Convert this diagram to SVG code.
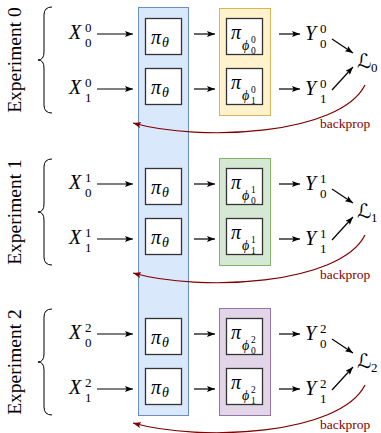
<svg xmlns="http://www.w3.org/2000/svg" width="381" height="433" viewBox="0 0 381 433">
<style>
text{font-family:"Liberation Serif","DejaVu Serif",serif;fill:#000}
.m{font-style:italic;font-size:20px}
.s{font-size:13px}
.ss{font-size:9.5px}
.g{font-style:italic;font-size:14px}
.cal{font-family:"DejaVu Serif","DejaVu Sans",serif;font-size:20px}
.exp{font-size:19.5px}
.bp{font-size:13.5px;fill:#7f0000}
.box{fill:#fff;stroke:#333;stroke-width:1.3}
.brace{fill:none;stroke:#000;stroke-width:1}
.ar{fill:none;stroke:#000;stroke-width:1.2;marker-end:url(#ah)}
.rc{fill:none;stroke:#7f0000;stroke-width:1.2;marker-end:url(#rh)}
</style>
<defs>
<marker id="ah" markerUnits="userSpaceOnUse" markerWidth="8" markerHeight="6" refX="8" refY="3" orient="auto"><path d="M0,0 L8,3 L0,6 L1.6,3 z" fill="#000"/></marker>
<marker id="rh" markerUnits="userSpaceOnUse" markerWidth="8" markerHeight="6" refX="8" refY="3" orient="auto"><path d="M0,0 L8,3 L0,6 L1.6,3 z" fill="#7f0000"/></marker>
</defs>

<g id="shared-column"><rect x="138.5" y="7.5" width="50" height="408" fill="#dae8fc" stroke="#6c8ebf" stroke-width="1"/></g>
<g id="head-0"><rect x="219.5" y="8.5" width="51" height="107" fill="#fff2cc" stroke="#d6b656" stroke-width="1"/></g>
<g id="head-1"><rect x="219.5" y="158.5" width="51" height="107" fill="#d5e8d4" stroke="#82b366" stroke-width="1"/></g>
<g id="head-2"><rect x="219.5" y="308.5" width="51" height="107" fill="#e1d5e7" stroke="#9673a6" stroke-width="1"/></g>

<!-- Experiment 0 -->
<g id="exp0-label"><text class="exp" text-anchor="middle" transform="translate(21,60) rotate(-90)">Experiment 0</text><path class="brace" d="M52,7 Q44,7 44,15 L44,52 Q44,60 38,60 Q44,60 44,68 L44,105 Q44,113 52,113"/></g>
<g id="x00"><text class="m" x="69" y="38.5">X</text><text class="s" x="85" y="32">0</text><text class="s" x="85" y="47">0</text></g>
<g id="x10"><text class="m" x="69" y="93.5">X</text><text class="s" x="85" y="87">0</text><text class="s" x="85" y="102">1</text></g>
<g id="pi00"><rect class="box" x="145.5" y="18.5" width="36" height="36"/><text class="m" x="151" y="44">π</text><text class="g" x="162" y="47">θ</text></g>
<g id="pi10"><rect class="box" x="145.5" y="68.5" width="36" height="36"/><text class="m" x="151" y="94">π</text><text class="g" x="162" y="97">θ</text></g>
<g id="phi00"><rect class="box" x="226.5" y="18.5" width="36" height="36"/><text class="m" x="231" y="39">π</text><text class="g" x="242" y="49.5">ϕ</text><text class="ss" x="251" y="42.5">0</text><text class="ss" x="251" y="54">0</text></g>
<g id="phi10"><rect class="box" x="226.5" y="68.5" width="36" height="36"/><text class="m" x="231" y="89">π</text><text class="g" x="242" y="99.5">ϕ</text><text class="ss" x="251" y="92.5">0</text><text class="ss" x="251" y="104">1</text></g>
<g id="y00"><text class="m" x="305" y="39.5">Y</text><text class="s" x="320" y="33">0</text><text class="s" x="320" y="48">0</text></g>
<g id="y10"><text class="m" x="305" y="94.5">Y</text><text class="s" x="320" y="88">0</text><text class="s" x="320" y="103">1</text></g>
<g id="loss0"><text class="cal" x="357" y="68">ℒ</text><text class="s" x="371" y="72">0</text></g>
<g id="bp0"><text class="bp" x="320" y="128">backprop</text></g>

<!-- Experiment 1 -->
<g id="exp1-label"><text class="exp" text-anchor="middle" transform="translate(21,212) rotate(-90)">Experiment 1</text><path class="brace" d="M52,159 Q44,159 44,167 L44,204 Q44,212 38,212 Q44,212 44,220 L44,257 Q44,265 52,265"/></g>
<g id="x01"><text class="m" x="69" y="188.5">X</text><text class="s" x="85" y="182">1</text><text class="s" x="85" y="197">0</text></g>
<g id="x11"><text class="m" x="69" y="243.5">X</text><text class="s" x="85" y="237">1</text><text class="s" x="85" y="252">1</text></g>
<g id="pi01"><rect class="box" x="145.5" y="168.5" width="36" height="36"/><text class="m" x="151" y="194">π</text><text class="g" x="162" y="197">θ</text></g>
<g id="pi11"><rect class="box" x="145.5" y="218.5" width="36" height="36"/><text class="m" x="151" y="244">π</text><text class="g" x="162" y="247">θ</text></g>
<g id="phi01"><rect class="box" x="226.5" y="168.5" width="36" height="36"/><text class="m" x="231" y="189">π</text><text class="g" x="242" y="199.5">ϕ</text><text class="ss" x="251" y="192.5">1</text><text class="ss" x="251" y="204">0</text></g>
<g id="phi11"><rect class="box" x="226.5" y="218.5" width="36" height="36"/><text class="m" x="231" y="239">π</text><text class="g" x="242" y="249.5">ϕ</text><text class="ss" x="251" y="242.5">1</text><text class="ss" x="251" y="254">1</text></g>
<g id="y01"><text class="m" x="305" y="189.5">Y</text><text class="s" x="320" y="183">1</text><text class="s" x="320" y="198">0</text></g>
<g id="y11"><text class="m" x="305" y="244.5">Y</text><text class="s" x="320" y="238">1</text><text class="s" x="320" y="253">1</text></g>
<g id="loss1"><text class="cal" x="357" y="218">ℒ</text><text class="s" x="371" y="222">1</text></g>
<g id="bp1"><text class="bp" x="320" y="278.5">backprop</text></g>

<!-- Experiment 2 -->
<g id="exp2-label"><text class="exp" text-anchor="middle" transform="translate(21,362) rotate(-90)">Experiment 2</text><path class="brace" d="M52,309 Q44,309 44,317 L44,354 Q44,362 38,362 Q44,362 44,370 L44,407 Q44,415 52,415"/></g>
<g id="x02"><text class="m" x="69" y="338.5">X</text><text class="s" x="85" y="332">2</text><text class="s" x="85" y="347">0</text></g>
<g id="x12"><text class="m" x="69" y="393.5">X</text><text class="s" x="85" y="387">2</text><text class="s" x="85" y="402">1</text></g>
<g id="pi02"><rect class="box" x="145.5" y="318.5" width="36" height="36"/><text class="m" x="151" y="344">π</text><text class="g" x="162" y="347">θ</text></g>
<g id="pi12"><rect class="box" x="145.5" y="368.5" width="36" height="36"/><text class="m" x="151" y="394">π</text><text class="g" x="162" y="397">θ</text></g>
<g id="phi02"><rect class="box" x="226.5" y="318.5" width="36" height="36"/><text class="m" x="231" y="339">π</text><text class="g" x="242" y="349.5">ϕ</text><text class="ss" x="251" y="342.5">2</text><text class="ss" x="251" y="354">0</text></g>
<g id="phi12"><rect class="box" x="226.5" y="368.5" width="36" height="36"/><text class="m" x="231" y="389">π</text><text class="g" x="242" y="399.5">ϕ</text><text class="ss" x="251" y="392.5">2</text><text class="ss" x="251" y="404">1</text></g>
<g id="y02"><text class="m" x="305" y="339.5">Y</text><text class="s" x="320" y="333">2</text><text class="s" x="320" y="348">0</text></g>
<g id="y12"><text class="m" x="305" y="394.5">Y</text><text class="s" x="320" y="388">2</text><text class="s" x="320" y="403">1</text></g>
<g id="loss2"><text class="cal" x="357" y="368">ℒ</text><text class="s" x="371" y="372">2</text></g>
<g id="bp2"><text class="bp" x="320" y="428.5">backprop</text></g>

<g id="connectors">
<path class="ar" d="M97,34H133"/><path class="ar" d="M97,89H133"/>
<path class="ar" d="M194,34H215"/><path class="ar" d="M194,89H215"/>
<path class="ar" d="M279,34H300"/><path class="ar" d="M279,89H300"/>
<path class="ar" d="M332,39L353,53"/><path class="ar" d="M332,90L353,67"/>
<path class="rc" d="M365,85 C340,135 200,142 133,123"/>

<path class="ar" d="M97,184H133"/><path class="ar" d="M97,239H133"/>
<path class="ar" d="M194,184H215"/><path class="ar" d="M194,239H215"/>
<path class="ar" d="M279,184H300"/><path class="ar" d="M279,239H300"/>
<path class="ar" d="M332,189L353,203"/><path class="ar" d="M332,240L353,217"/>
<path class="rc" d="M365,235 C340,285 200,292 133,273"/>

<path class="ar" d="M97,334H133"/><path class="ar" d="M97,389H133"/>
<path class="ar" d="M194,334H215"/><path class="ar" d="M194,389H215"/>
<path class="ar" d="M279,334H300"/><path class="ar" d="M279,389H300"/>
<path class="ar" d="M332,339L353,353"/><path class="ar" d="M332,390L353,367"/>
<path class="rc" d="M365,385 C340,435 200,442 133,423"/>
</g>
</svg>
